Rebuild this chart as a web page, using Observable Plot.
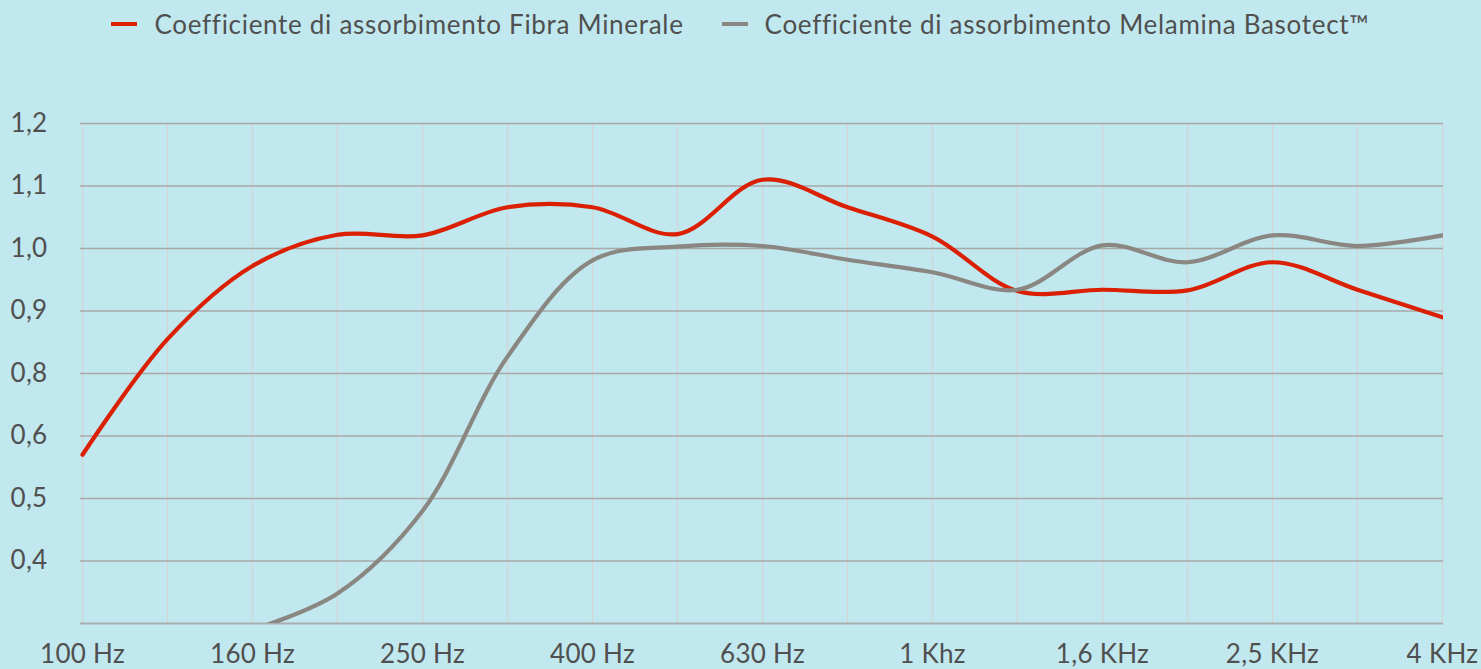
<!DOCTYPE html>
<html>
<head>
<meta charset="utf-8">
<script src="https://cdn.jsdelivr.net/npm/d3@7"></script>
<script src="https://cdn.jsdelivr.net/npm/@observablehq/plot@0.6"></script>
<style>
  html, body { margin: 0; padding: 0; background: #c0e8ee; }
  body { width: 1481px; height: 669px; overflow: hidden; font-family: Lato, "Noto Sans", sans-serif; }
  #legend { height: 50px; display: flex; justify-content: center; align-items: flex-start; padding-top: 7px; box-sizing: border-box; color: #505050; font-size: 26px; letter-spacing: 0.7px; }
  .item { display: flex; align-items: center; height: 34px; margin: 0 19px; }
  .sw { width: 26px; height: 4px; margin-right: 17px; }
  #chart svg text { letter-spacing: 0.3px; }
</style>
</head>
<body>
<div id="legend"></div>
<div id="chart"></div>
<script>
const freqs = [100, 125, 160, 200, 250, 315, 400, 500, 630, 800, 1000, 1250, 1600, 2000, 2500, 3150, 4000];
const xTickFreqs = [100, 160, 250, 400, 630, 1000, 1600, 2500, 4000];
const xTickLabels = ["100 Hz", "160 Hz", "250 Hz", "400 Hz", "630 Hz", "1 Khz", "1,6 KHz", "2,5 KHz", "4 KHz"];
const yTicks = [0.4, 0.5, 0.6, 0.8, 0.9, 1.0, 1.1, 1.2];
const yTickLabels = ["0,4", "0,5", "0,6", "0,8", "0,9", "1,0", "1,1", "1,2"];
const seriesNames = ["Coefficiente di assorbimento Fibra Minerale", "Coefficiente di assorbimento Melamina Basotect™"];
const seriesColors = ["#da2000", "#8a8782"];
const fibraMinerale = [0.57, 0.855, 0.972, 1.022, 1.021, 1.066, 1.066, 1.023, 1.11, 1.066, 1.019, 0.932, 0.934, 0.933, 0.978, 0.934, 0.89];
const melamina = [null, null, 0.29, 0.348, 0.48, 0.827, 0.981, 1.003, 1.004, 0.982, 0.962, 0.934, 1.005, 0.978, 1.021, 1.004, 1.021];

const legend = document.getElementById("legend");
seriesNames.forEach((n, i) => {
  const it = document.createElement("div");
  it.className = "item";
  it.innerHTML = `<div class="sw" style="background:${seriesColors[i]}"></div><span>${n}</span>`;
  legend.appendChild(it);
});

const rows = [];
[fibraMinerale, melamina].forEach((arr, s) => {
  arr.forEach((v, i) => { if (v != null) rows.push({series: seriesNames[s], f: freqs[i], v}); });
});

const W = 1481, H = 619, mt = 73, mb = 46, ml = 80, mr = 38;
const yBottom = H - mb, yTop = mt, yStep = (yBottom - yTop) / 8;

const chart = Plot.plot({
  width: W, height: H,
  marginTop: mt, marginBottom: mb, marginLeft: ml, marginRight: mr,
  style: {background: "transparent", color: "#505050", fontFamily: "Lato, 'Noto Sans', sans-serif"},
  x: {type: "point", domain: freqs, padding: 0},
  y: {type: "linear", domain: [0.3, 0.6, 0.8, 1.2], range: [yBottom, yBottom - 3 * yStep, yBottom - 4 * yStep, yTop]},
  color: {domain: seriesNames, range: seriesColors},
  marks: [
    Plot.ruleX(freqs, {stroke: "#d4d4d4", strokeWidth: 1.2}),
    Plot.ruleY(yTicks, {stroke: "#a8a8a8", strokeWidth: 1.3}),
    Plot.ruleY([0.3], {stroke: "#a9adb0", strokeWidth: 2}),
    Plot.axisY({ticks: yTicks, tickSize: 0, tickPadding: 33, fontSize: 26, tickFormat: d => yTickLabels[yTicks.indexOf(d)], label: null}),
    Plot.axisX({ticks: xTickFreqs, tickSize: 0, tickPadding: 21, fontSize: 26, tickFormat: d => xTickLabels[xTickFreqs.indexOf(d)], label: null}),
    Plot.line(rows, {x: "f", y: "v", z: "series", stroke: "series", strokeWidth: 4.2, curve: "catmull-rom", clip: true})
  ]
});
document.getElementById("chart").appendChild(chart);
</script>
</body>
</html>
